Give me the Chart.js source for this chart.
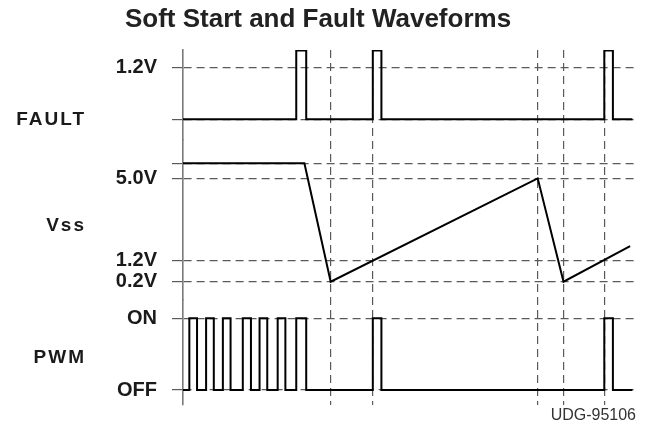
<!DOCTYPE html>
<html>
<head>
<meta charset="utf-8">
<script src="https://cdn.jsdelivr.net/npm/chart.js@4"></script>
<style>
  html, body { margin: 0; padding: 0; background: #fff; }
</style>
</head>
<body>
<canvas id="waveChart" width="646" height="433"></canvas>
<script>
// time axis runs 0..100 (arbitrary units)
var timeMarks = [32.6, 41.9, 78.3, 84.0, 93.0];

// FAULT: edge times and the level after each edge
var faultEdges = [0, 25.0, 27.2, 41.9, 43.8, 93.0, 94.9, 99.2];
var faultLevels = [0, 1.6, 0, 1.6, 0, 1.6, 0, 0];

// Vss soft start capacitor voltage
var vssTimes = [0, 26.8, 32.6, 78.3, 84.0, 98.7];
var vssVolts = [5.7, 5.7, 0.2, 5.0, 0.2, 1.85];

// PWM output, 1 = ON, 0 = OFF
var pwmEdges = [0, 1.4, 3.1, 5.1, 6.8, 8.8, 10.5, 13.2, 15.0, 16.9, 18.6, 20.9, 22.6, 25.0, 27.2, 41.9, 43.8, 93.0, 94.9, 99.2];
var pwmStates = [0, 1, 0, 1, 0, 1, 0, 1, 0, 1, 0, 1, 0, 1, 0, 1, 0, 1, 0, 0];

var faultTicks = [0, 1.2];
var faultTickLabels = ["", "1.2V"];
var vssTicks = [0.2, 1.2, 5.0, 5.7];
var vssTickLabels = ["0.2V", "1.2V", "5.0V", ""];
var pwmTicks = [0, 1];
var pwmTickLabels = ["OFF", "ON"];

var laneNames = ["FAULT", "Vss", "PWM"];
var laneNameLevels = [0, 2.8, 0.45];

Chart.defaults.font.family = "'Liberation Sans', Arial, Helvetica, sans-serif";

function toPoints(xs, ys) {
	var pts = [];
	for (var i = 0; i < xs.length; i++) {
		pts.push({ x: xs[i], y: ys[i] });
	}
	return pts;
}

function laneAxis(ticks, labels, min, max, weight) {
	return {
		type: "linear",
		position: "left",
		stack: "lanes",
		stackWeight: weight,
		min: min,
		max: max,
		afterBuildTicks: function(scale) {
			scale.ticks = ticks.map(function(v) { return { value: v }; });
		},
		afterFit: function(scale) {
			scale.width = 183;
		},
		ticks: {
			autoSkip: false,
			padding: 15,
			color: "#1a1a1a",
			font: { size: 20, weight: "bold" },
			callback: function(value) {
				var i = ticks.indexOf(value);
				return i < 0 ? "" : labels[i];
			}
		},
		grid: { color: "#5a5a5a", lineWidth: 1.2, tickLength: 11, tickColor: "#5a5a5a", tickWidth: 1.2 },
		border: { display: true, color: "#7a7a7a", width: 1.6, dash: [8, 5] }
	};
}

var laneLabels = {
	id: "laneLabels",
	afterDraw: function(chart) {
		var ctx = chart.ctx;
		var axes = [chart.scales.yFault, chart.scales.yVss, chart.scales.yPwm];
		ctx.save();
		ctx.font = "bold 19px 'Liberation Sans', Arial, sans-serif";
		ctx.fillStyle = "#1a1a1a";
		ctx.textAlign = "right";
		ctx.textBaseline = "middle";
		ctx.letterSpacing = "2px";
		for (var i = 0; i < laneNames.length; i++) {
			ctx.fillText(laneNames[i], 86, axes[i].getPixelForValue(laneNameLevels[i]));
		}
		ctx.restore();
	}
};

var line = { borderColor: "#000", borderWidth: 2, pointRadius: 0, fill: false, tension: 0 };

var ctx = document.getElementById("waveChart").getContext("2d");
var chart = new Chart(ctx, {
	type: "line",
	data: {
		datasets: [
			Object.assign({ label: "FAULT", data: toPoints(faultEdges, faultLevels), yAxisID: "yFault", stepped: true }, line),
			Object.assign({ label: "Vss", data: toPoints(vssTimes, vssVolts), yAxisID: "yVss" }, line),
			Object.assign({ label: "PWM", data: toPoints(pwmEdges, pwmStates), yAxisID: "yPwm", stepped: true }, line)
		]
	},
	options: {
		responsive: false,
		animation: false,
		layout: { padding: { left: 0, right: 10, top: 0, bottom: 0 } },
		plugins: {
			legend: { display: false },
			tooltip: { enabled: false },
			title: {
				display: true,
				text: "Soft Start and Fault Waveforms",
				color: "#222",
				font: { size: 26, weight: "bold" },
				padding: { top: 4.4, bottom: 14.4 }
			},
			subtitle: {
				display: true,
				text: "UDG-95106",
				position: "bottom",
				align: "end",
				color: "#333",
				font: { size: 16, weight: "normal" },
				padding: { top: 1, bottom: 7.8 }
			}
		},
		scales: {
			x: {
				type: "linear",
				min: 0,
				max: 100,
				afterBuildTicks: function(scale) {
					scale.ticks = timeMarks.map(function(v) { return { value: v }; });
				},
				afterFit: function(scale) {
					scale.height = 0;
				},
				ticks: { display: false },
				grid: { color: "#5a5a5a", lineWidth: 1.2, drawTicks: false },
				border: { display: false, dash: [8, 5] }
			},
			// stacked left axes are placed bottom-up in key order
			yPwm: laneAxis(pwmTicks, pwmTickLabels, -0.209, 1.255, 105),
			yVss: laneAxis(vssTicks, vssTickLabels, -0.65, 6.78, 160),
			yFault: laneAxis(faultTicks, faultTickLabels, -0.481, 1.612, 90)
		}
	},
	plugins: [laneLabels]
});
</script>
</body>
</html>
